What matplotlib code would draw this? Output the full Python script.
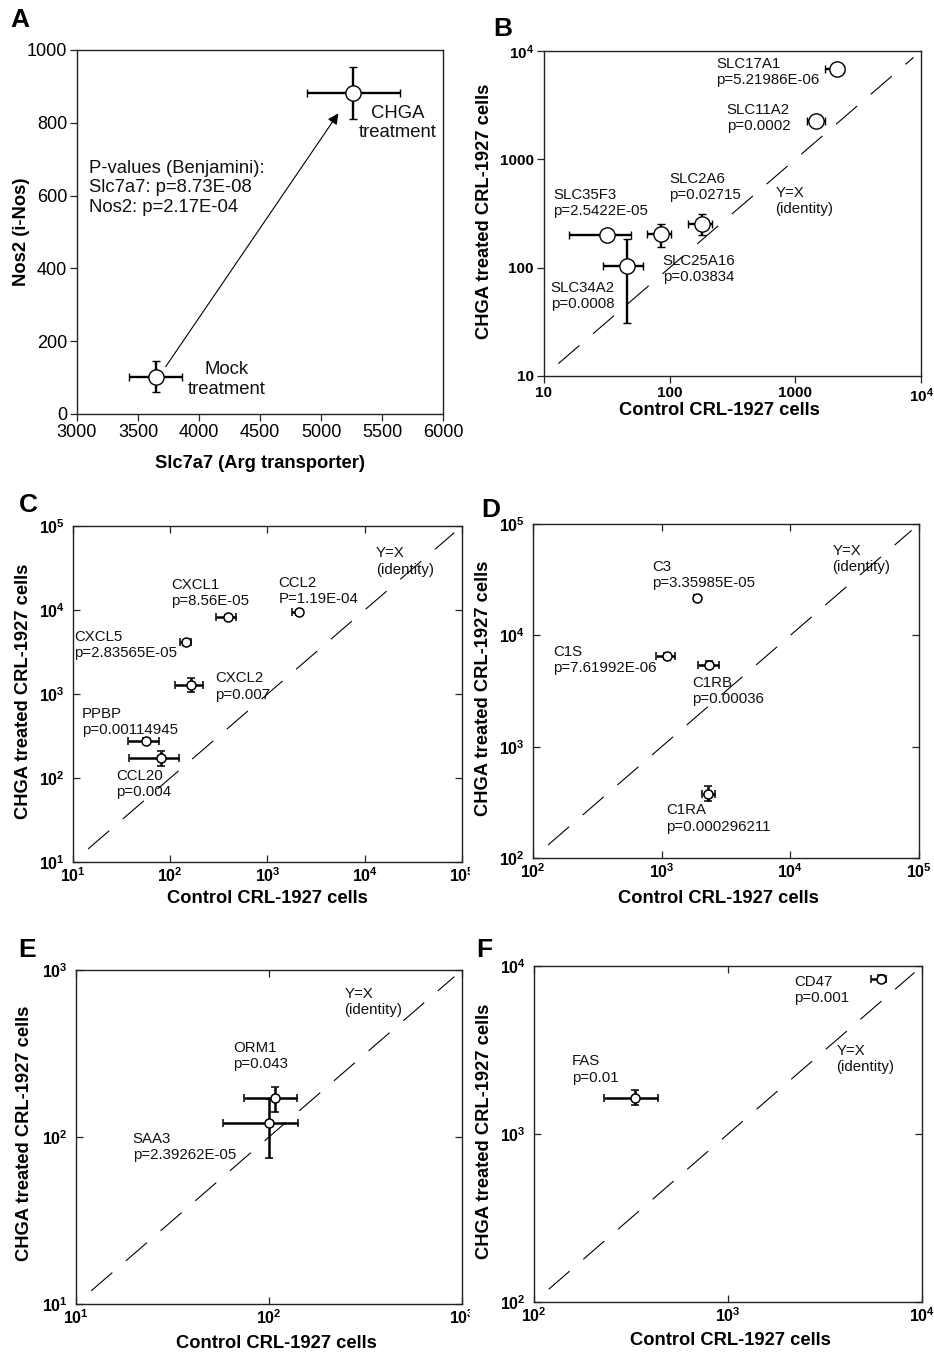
import matplotlib
matplotlib.use("Agg")
import matplotlib.pyplot as plt
import numpy as np
from matplotlib.ticker import FixedLocator, FixedFormatter, NullLocator
from matplotlib.transforms import Bbox, TransformedBbox

plt.rcParams['font.family'] = ['Liberation Sans', 'DejaVu Sans']
plt.rcParams['mathtext.fontset'] = 'custom'
plt.rcParams['mathtext.rm'] = 'Liberation Sans'
plt.rcParams['mathtext.bf'] = 'Liberation Sans:bold'
plt.rcParams['lines.scale_dashes'] = False

# ---------------- DATA ----------------
# Panel A
a_groups = ['Mock\ntreatment', 'CHGA\ntreatment']
a_x = [3645, 5265]
a_xerr = [218, 381]
a_y = [103, 881]
a_yerr = [43, 71]
a_arrow_start = (3727, 130)
a_arrow_end = (5142, 826)
a_pvals = "P-values (Benjamini):\nSlc7a7: p=8.73E-08\nNos2: p=2.17E-04"

# Panel B
b_genes = ['SLC17A1', 'SLC11A2', 'SLC2A6', 'SLC25A16', 'SLC35F3', 'SLC34A2']
b_pvals = ['p=5.21986E-06', 'p=0.0002', 'p=0.02715', 'p=0.03834', 'p=2.5422E-05', 'p=0.0008']
b_x = [2140, 1460, 182, 85, 32, 45.5]
b_x_lo = [1730, 1235, 141, 66, 15.8, 29.3]
b_x_hi = [2450, 1725, 219, 103, 49.3, 61.8]
b_y = [6770, 2275, 253, 203, 200, 104]
b_y_lo = [6770, 2275, 200, 156, 200, 30.6]
b_y_hi = [6770, 2275, 311, 251, 200, 183]
b_label_xy = [(234, 6440), (285, 2390), (99.5, 560), (88, 96.6), (11.9, 392), (11.3, 54.7)]
b_identity = (13, 8730)
b_identity_label = (692, 412)

# Panel C
c_genes = ['CXCL1', 'CCL2', 'CXCL5', 'CXCL2', 'PPBP', 'CCL20']
c_pvals = ['p=8.56E-05', 'P=1.19E-04', 'p=2.83565E-05', 'p=0.007', 'p=0.00114945', 'p=0.004']
c_x = [389, 2110, 144, 162, 56.9, 80]
c_x_lo = [295, 1775, 126, 113, 36.9, 37.8]
c_x_hi = [474, 2285, 163, 218, 76.9, 123.6]
c_y = [8200, 9400, 4130, 1285, 277, 172.6]
c_y_lo = [7600, 8800, 3850, 1050, 255, 140]
c_y_hi = [8800, 10000, 4400, 1540, 300, 207]
c_label_xy = [(103, 16100), (1295, 17000), (10.2, 3850), (288, 1228), (12.4, 462), (27.9, 84.7)]
c_identity = (14.3, 83400)
c_identity_label = (13000, 37700)

# Panel D
d_genes = ['C3', 'C1S', 'C1RB', 'C1RA']
d_pvals = ['p=3.35985E-05', 'p=7.61992E-06', 'p=0.00036', 'p=0.000296211']
d_x = [1888, 1101, 2322, 2296]
d_x_lo = [1790, 910, 1920, 2060]
d_x_hi = [1990, 1265, 2780, 2620]
d_y = [21600, 6550, 5470, 379]
d_y_lo = [20200, 6100, 5100, 323]
d_y_hi = [23000, 7000, 5850, 444]
d_label_xy = [(844, 34700), (143, 5985), (1734, 3170), (1077, 226)]
d_identity = (131, 87700)
d_identity_label = (21300, 48400)

# Panel E
e_genes = ['ORM1', 'SAA3']
e_pvals = ['p=0.043', 'p=2.39262E-05']
e_x = [108, 99.6]
e_x_lo = [74, 57.8]
e_x_hi = [139.7, 141]
e_y = [170.7, 121]
e_y_lo = [142, 74.6]
e_y_hi = [198.6, 168]
e_label_xy = [(65, 307), (19.7, 86.9)]
e_identity = (12, 912)
e_identity_label = (246, 641)

# Panel F
f_genes = ['CD47', 'FAS']
f_pvals = ['p=0.001', 'p=0.01']
f_x = [6120, 330]
f_x_lo = [5480, 230]
f_x_hi = [6550, 436]
f_y = [8415, 1640]
f_y_lo = [8000, 1487]
f_y_hi = [8800, 1824]
f_label_xy = [(2188, 7190), (157, 2420)]
f_identity = (119, 9160)
f_identity_label = (3614, 2793)

# ---------------- FIGURE ----------------
W, H = 934, 1353
fig = plt.figure(figsize=(W / 100, H / 100), dpi=100)

ANN = 10.8      # annotation font size
LAB = 13.2      # axis label font size
TXT_C = '#111111'


def px_axes(l, t, r, b):
    return fig.add_axes([l / W, 1 - b / H, (r - l) / W, (b - t) / H])


SPINE_C = '#222222'


def style_spines(ax):
    for s in ax.spines.values():
        s.set_linewidth(1.0)
        s.set_color(SPINE_C)


def panel_letter(x, y, s):
    fig.text(x / W, 1 - y / H, s, fontsize=19, fontweight='bold', ha='left', va='top')


def set_labels(ax, xl_xy, yl_xy):
    ax.set_xlabel('Control CRL-1927 cells', fontsize=LAB, fontweight='bold')
    ax.set_ylabel('CHGA treated CRL-1927 cells', fontsize=LAB, fontweight='bold')
    ax.xaxis.set_label_coords(*xl_xy)
    ax.yaxis.set_label_coords(*yl_xy)


def log_panel(ax, lo_exp, hi_exp, x, xlo, xhi, y, ylo, yhi, genes, pvals, lab_xy,
              ident, ident_lab):
    ax.set_xscale('log')
    ax.set_yscale('log')
    ax.set_xlim(10 ** lo_exp, 10 ** hi_exp)
    ax.set_ylim(10 ** lo_exp, 10 ** hi_exp)
    ticks = [10.0 ** e for e in range(lo_exp, hi_exp + 1)]
    labs = [r'$\mathbf{10^{%d}}$' % e for e in range(lo_exp, hi_exp + 1)]
    for axis in (ax.xaxis, ax.yaxis):
        axis.set_major_locator(FixedLocator(ticks))
        axis.set_major_formatter(FixedFormatter(labs))
        axis.set_minor_locator(NullLocator())
    ax.tick_params(which='major', direction='in', top=True, right=True, length=5,
                   width=0.9, labelsize=11.5, color=SPINE_C)
    ax.tick_params(axis='y', pad=6)
    ax.tick_params(axis='x', pad=3)
    x = np.array(x); y = np.array(y)
    xerr = np.vstack([x - np.array(xlo), np.array(xhi) - x])
    yerr = np.vstack([y - np.array(ylo), np.array(yhi) - y])
    ax.plot(ident, ident, color='k', lw=0.8, linestyle=(0, (20, 13)), zorder=1)
    ax.errorbar(x, y, xerr=xerr, yerr=yerr, fmt='o', ms=6.5, mfc='white', mec='k',
                mew=1.1, ecolor='k', elinewidth=1.8, capsize=3, capthick=1.8, zorder=3)
    for g, p, (lx, ly) in zip(genes, pvals, lab_xy):
        ax.text(lx, ly, g + '\n' + p, fontsize=ANN, ha='left', va='center', color=TXT_C)
    ax.text(ident_lab[0], ident_lab[1], 'Y=X\n(identity)', fontsize=ANN, ha='left',
            va='center', color=TXT_C)
    style_spines(ax)


# ---- Panel A ----
axA = px_axes(77, 50, 443, 414)
axA.set_xlim(3000, 6000)
axA.set_ylim(0, 1000)
axA.set_xticks(np.arange(3000, 6001, 500))
axA.set_yticks(np.arange(0, 1001, 200))
axA.tick_params(direction='out', length=5, width=0.9, labelsize=13, pad=2, color=SPINE_C)
axA.annotate('', xy=a_arrow_end, xytext=a_arrow_start,
             arrowprops=dict(arrowstyle='-|>', lw=0.8, color='k', mutation_scale=16,
                             shrinkA=0, shrinkB=0))
axA.errorbar(a_x, a_y, xerr=a_xerr, yerr=a_yerr, fmt='o', ms=11, mfc='white', mec='k',
             mew=1.0, ecolor='k', elinewidth=1.7, capsize=3, capthick=1.7, zorder=3)
axA.text(4230, 95, a_groups[0], fontsize=13.3, ha='center', va='center',
         multialignment='center', linespacing=1.2, color=TXT_C)
axA.text(5630, 800, a_groups[1], fontsize=13.3, ha='center', va='center',
         multialignment='center', linespacing=1.2, color=TXT_C)
axA.text(3100, 621, a_pvals, fontsize=13.3, ha='left', va='center', linespacing=1.2,
         color=TXT_C)
axA.set_xlabel('Slc7a7 (Arg transporter)', fontsize=LAB, fontweight='bold')
axA.set_ylabel('Nos2 (i-Nos)', fontsize=LAB, fontweight='bold')
axA.xaxis.set_label_coords(0.5, -0.113)
axA.yaxis.set_label_coords(-0.128, 0.5)
style_spines(axA)
panel_letter(10, 8, 'A')

# ---- Panel B ----
axB = px_axes(544, 51, 921, 376)
axB.set_xscale('log')
axB.set_yscale('log')
axB.set_xlim(10, 1e4)
axB.set_ylim(10, 1e4)
b_ticks = [10, 100, 1000, 10000]
b_ticklabels = ['10', '100', '1000', r'$\mathbf{10^{4}}$']
for axis in (axB.xaxis, axB.yaxis):
    axis.set_major_locator(FixedLocator(b_ticks))
    axis.set_major_formatter(FixedFormatter(b_ticklabels))
    axis.set_minor_locator(NullLocator())
axB.tick_params(direction='out', length=5, width=0.9, labelsize=11, pad=2.5, color=SPINE_C)
for lab in axB.get_xticklabels() + axB.get_yticklabels():
    lab.set_fontweight('bold')
bx = np.array(b_x); by = np.array(b_y)
axB.plot(b_identity, b_identity, color='k', lw=0.8, linestyle=(0, (20, 13)), zorder=1)
axB.errorbar(bx, by, xerr=np.vstack([bx - np.array(b_x_lo), np.array(b_x_hi) - bx]),
             yerr=np.vstack([by - np.array(b_y_lo), np.array(b_y_hi) - by]),
             fmt='o', ms=11, mfc='white', mec='k', mew=1.0, ecolor='k',
             elinewidth=1.7, capsize=3, capthick=1.7, zorder=3)
for g, p, (lx, ly) in zip(b_genes, b_pvals, b_label_xy):
    axB.text(lx, ly, g + '\n' + p, fontsize=ANN, ha='left', va='center', color=TXT_C)
axB.text(b_identity_label[0], b_identity_label[1], 'Y=X\n(identity)', fontsize=ANN,
         ha='left', va='center', color=TXT_C)
set_labels(axB, (0.466, -0.080), (-0.135, 0.508))
style_spines(axB)
panel_letter(493, 17, 'B')

# ---- Panel C ----
axC = px_axes(73, 526, 462, 862)
log_panel(axC, 1, 5, c_x, c_x_lo, c_x_hi, c_y, c_y_lo, c_y_hi, c_genes, c_pvals,
          c_label_xy, c_identity, c_identity_label)
set_labels(axC, (0.5, -0.083), (-0.105, 0.509))
panel_letter(19, 493, 'C')

# ---- Panel D ----
axD = px_axes(533, 524, 919, 858)
log_panel(axD, 2, 5, d_x, d_x_lo, d_x_hi, d_y, d_y_lo, d_y_hi, d_genes, d_pvals,
          d_label_xy, d_identity, d_identity_label)
set_labels(axD, (0.481, -0.096), (-0.106, 0.509))
panel_letter(481, 498, 'D')

# ---- Panel E ----
axE = px_axes(76, 970, 462, 1304)
log_panel(axE, 1, 3, e_x, e_x_lo, e_x_hi, e_y, e_y_lo, e_y_hi, e_genes, e_pvals,
          e_label_xy, e_identity, e_identity_label)
set_labels(axE, (0.518, -0.093), (-0.111, 0.512))
panel_letter(18, 938, 'E')

# ---- Panel F ----
axF = px_axes(534, 966, 922, 1302)
log_panel(axF, 2, 4, f_x, f_x_lo, f_x_hi, f_y, f_y_lo, f_y_hi, f_genes, f_pvals,
          f_label_xy, f_identity, f_identity_label)
set_labels(axF, (0.505, -0.089), (-0.106, 0.509))
panel_letter(476, 938, 'F')

# clip the rightmost x tick labels of the left column (cropped in the original)
clipbox = TransformedBbox(Bbox([[0, 0], [470 / W, 1]]), fig.transFigure)
for ax in (axC, axE):
    for lab in ax.get_xticklabels():
        lab.set_clip_box(clipbox)
        lab.set_clip_on(True)

fig.savefig('out.png', dpi=100)
